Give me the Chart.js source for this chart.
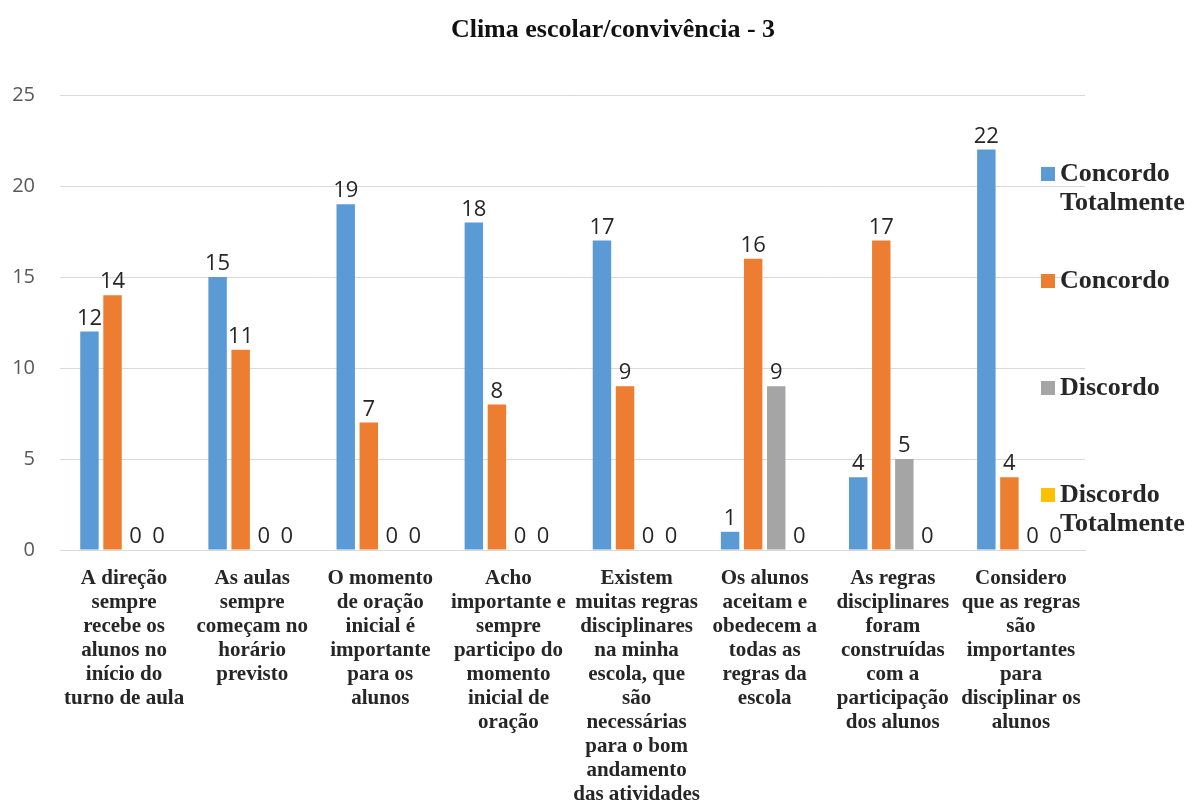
<!DOCTYPE html>
<html>
<head>
<meta charset="utf-8">
<script src="https://cdn.jsdelivr.net/npm/chart.js@4/dist/chart.umd.min.js"></script>
<style>
  html, body { margin: 0; padding: 0; background: #fff; }
  #wrap { width: 1193px; height: 802px; }
</style>
</head>
<body>
<div id="wrap"><canvas id="c" width="1193" height="802"></canvas></div>
<script>
// Survey answers per statement
const categories = [
  ["A direção", "sempre", "recebe os", "alunos no", "início do", "turno de aula"],
  ["As aulas", "sempre", "começam no", "horário", "previsto"],
  ["O momento", "de oração", "inicial é", "importante", "para os", "alunos"],
  ["Acho", "importante e", "sempre", "participo do", "momento", "inicial de", "oração"],
  ["Existem", "muitas regras", "disciplinares", "na minha", "escola, que", "são", "necessárias", "para o bom", "andamento", "das atividades"],
  ["Os alunos", "aceitam e", "obedecem a", "todas as", "regras da", "escola"],
  ["As regras", "disciplinares", "foram", "construídas", "com a", "participação", "dos alunos"],
  ["Considero", "que as regras", "são", "importantes", "para", "disciplinar os", "alunos"]
];
const concordoTotalmente = [12, 15, 19, 18, 17, 1, 4, 22];
const concordo = [14, 11, 7, 8, 9, 16, 17, 4];
const discordo = [0, 0, 0, 0, 0, 9, 5, 0];
const discordoTotalmente = [0, 0, 0, 0, 0, 0, 0, 0];
const seriesNames = [["Concordo", "Totalmente"], ["Concordo"], ["Discordo"], ["Discordo", "Totalmente"]];
const yTicks = [0, 5, 10, 15, 20, 25];
const titleText = "Clima escolar/convivência - 3";

const colors = ["#5B9BD5", "#ED7D31", "#A5A5A5", "#FFC000"];
const serif = "'Liberation Serif', 'Times New Roman', serif";
const sans = "'Open Sans', 'Liberation Sans', sans-serif";

// Value labels above each bar
const valueLabels = {
  id: "valueLabels",
  afterDatasetsDraw(chart) {
    const ctx = chart.ctx;
    ctx.save();
    ctx.font = "22px " + sans;
    ctx.fillStyle = "#262626";
    ctx.textAlign = "center";
    ctx.textBaseline = "bottom";
    chart.data.datasets.forEach((ds, i) => {
      const meta = chart.getDatasetMeta(i);
      meta.data.forEach((bar, j) => {
        ctx.fillText(String(ds.data[j]), bar.x, bar.y - 2);
      });
    });
    ctx.restore();
  }
};

// Title and right-hand legend
const decorations = {
  id: "decorations",
  afterDraw(chart) {
    const ctx = chart.ctx;
    ctx.save();
    ctx.fillStyle = "#111";
    ctx.font = "bold 26px " + serif;
    ctx.textAlign = "center";
    ctx.textBaseline = "middle";
    ctx.fillText(titleText, 613, 30);

    ctx.font = "bold 26px " + serif;
    ctx.textAlign = "left";
    const x0 = 1041, ys = [174, 281, 388, 495];
    chart.data.datasets.forEach((ds, i) => {
      const y = ys[i];
      ctx.fillStyle = ds.backgroundColor;
      ctx.fillRect(x0, y - 7, 14, 14);
      ctx.fillStyle = "#262626";
      seriesNames[i].forEach((t, k) => ctx.fillText(t, x0 + 19, y + k * 29));
    });
    ctx.restore();
  }
};

const names = ["Concordo Totalmente", "Concordo", "Discordo", "Discordo Totalmente"];
const series = [concordoTotalmente, concordo, discordo, discordoTotalmente];

new Chart(document.getElementById("c"), {
  type: "bar",
  data: {
    labels: categories,
    datasets: series.map((d, i) => ({
      label: names[i],
      data: d,
      backgroundColor: colors[i],
      borderWidth: 0,
      categoryPercentage: 0.72,
      barPercentage: 0.8
    }))
  },
  options: {
    responsive: false,
    animation: false,
    layout: { padding: { left: 0, right: 108, top: 95, bottom: 0 } },
    plugins: {
      legend: { display: false },
      tooltip: { enabled: false },
      title: { display: false }
    },
    scales: {
      x: {
        grid: { display: false, drawTicks: false },
        border: { display: true, color: "#d9d9d9", width: 1 },
        ticks: {
          autoSkip: false,
          maxRotation: 0,
          minRotation: 0,
          padding: 17,
          color: "#262626",
          font: { family: serif, size: 21, weight: "bold", lineHeight: 1.143 }
        },
        afterFit(scale) { scale.height = 252; }
      },
      y: {
        min: 0,
        max: 25,
        afterBuildTicks(scale) { scale.ticks = yTicks.map(v => ({ value: v })); },
        grid: { color: "#d9d9d9", drawTicks: false },
        border: { display: false },
        ticks: {
          padding: 25,
          color: "#595959",
          font: { family: sans, size: 20 }
        },
        afterFit(scale) { scale.width = 60; }
      }
    }
  },
  plugins: [valueLabels, decorations]
});
</script>
</body>
</html>
